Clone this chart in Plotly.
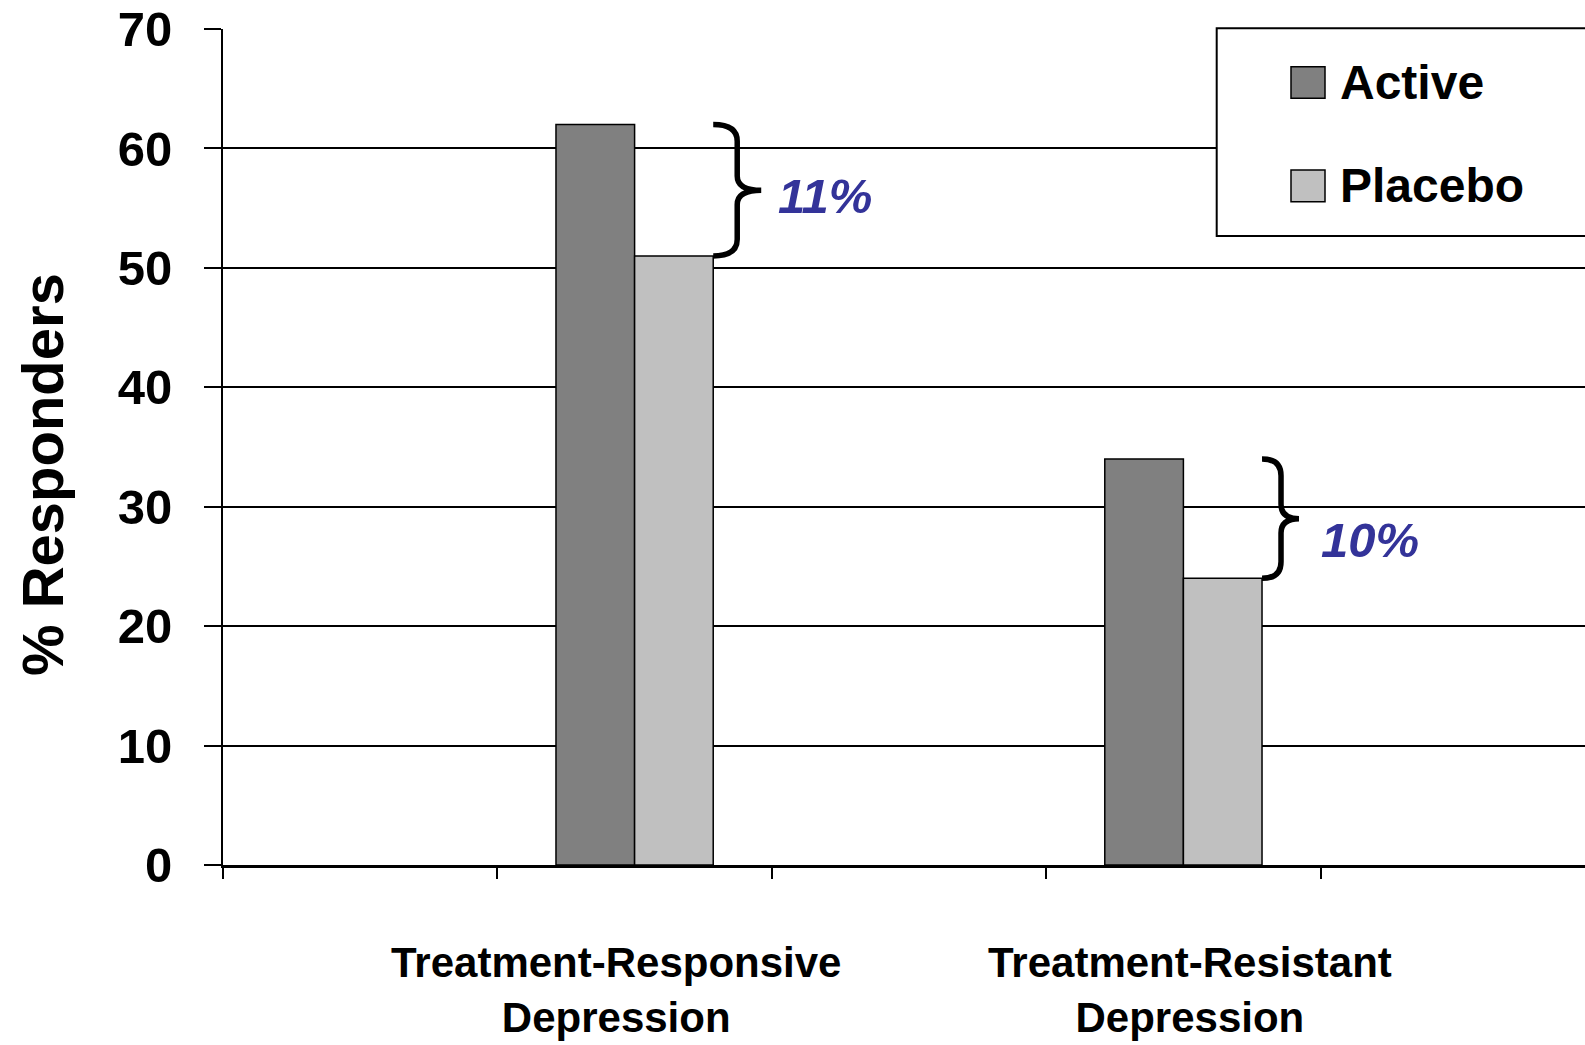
import plotly.graph_objects as go

# ---- data -------------------------------------------------------------
groups = ["Treatment-Responsive<br>Depression", "Treatment-Resistant<br>Depression"]
group_pos = [1, 3]                      # slots on a 5-slot category axis
active = [62, 34]
placebo = [51, 24]
diff_labels = ["11%", "10%"]
series_names = ["Active", "Placebo"]
y_ticks = [0, 10, 20, 30, 40, 50, 60, 70]

# ---- styling ----------------------------------------------------------
W, H = 1585, 1045
ML, MR, MT, MB = 223, 0, 29, 180
FONT = "Liberation Sans, Arial, Helvetica, sans-serif"
C_ACTIVE = "#808080"
C_PLACEBO = "#C0C0C0"
C_NOTE = "#333399"
BAR_W = 0.2865
SLOT_PX = 274.4
plot_w = W - ML - MR
x_range = [-0.5, -0.5 + plot_w / SLOT_PX]

# pixel -> paper helpers for the hand-placed legend box and title
def px_x(p):
    return (p - ML) / plot_w

def px_y(p):
    return (H - MB - p) / (H - MB - MT)

fig = go.Figure()
fig.add_trace(go.Bar(
    x=group_pos, y=active, name=series_names[0], width=BAR_W, offset=-BAR_W,
    marker=dict(color=C_ACTIVE, line=dict(color="black", width=1.5)),
    showlegend=False,
))
fig.add_trace(go.Bar(
    x=group_pos, y=placebo, name=series_names[1], width=BAR_W, offset=0,
    marker=dict(color=C_PLACEBO, line=dict(color="black", width=1.5)),
    showlegend=False,
))

# curly braces showing the active-minus-placebo gap
brace_spine = [24, 19]
brace_tip = [48, 37]
text_shift_x = [63, 57]
text_shift_y = [-6, -21]
for i, xp in enumerate(group_pos):
    top, bot = active[i], placebo[i]
    mid = (top + bot) / 2
    s, t = brace_spine[i], brace_tip[i]
    r1, r2 = 1.4, 1.2
    path = (
        f"M 0,{top} Q {s},{top} {s},{top - r1} "
        f"L {s},{mid + r2} Q {s},{mid} {t},{mid} "
        f"Q {s},{mid} {s},{mid - r2} "
        f"L {s},{bot + r1} Q {s},{bot} 0,{bot}"
    )
    fig.add_shape(
        type="path", path=path, xref="x", yref="y",
        xsizemode="pixel", xanchor=xp + BAR_W,
        line=dict(color="black", width=5.5),
    )
    fig.add_annotation(
        x=xp + BAR_W, y=mid, xref="x", yref="y",
        text=f"<b><i>{diff_labels[i]}</i></b>", showarrow=False,
        xanchor="left", yanchor="middle",
        xshift=text_shift_x[i], yshift=text_shift_y[i],
        font=dict(family=FONT, size=49, color=C_NOTE),
    )

# category labels beneath the axis
label_shift = [-19, 7]
for i, xp in enumerate(group_pos):
    fig.add_annotation(
        x=xp, y=0, xref="x", yref="paper",
        text=f"<b>{groups[i]}</b>", showarrow=False,
        xanchor="center", yanchor="top", xshift=label_shift[i], yshift=-72,
        font=dict(family=FONT, size=42, color="black"),
    )

# y-axis title
fig.add_annotation(
    x=px_x(42), y=px_y(475), xref="paper", yref="paper",
    text="<b>% Responders</b>", showarrow=False, textangle=-90,
    xanchor="center", yanchor="middle",
    font=dict(family=FONT, size=58, color="black"),
)

# legend box
fig.add_shape(
    type="rect", xref="paper", yref="paper",
    x0=px_x(1216.7), x1=px_x(W + 20), y0=px_y(236), y1=px_y(28.3),
    fillcolor="white", line=dict(color="black", width=2), layer="above",
)
legend_colors = [C_ACTIVE, C_PLACEBO]
legend_rows = [(66.7, 98.3), (170, 201.7)]
for name, col, (ya, yb) in zip(series_names, legend_colors, legend_rows):
    fig.add_shape(
        type="rect", xref="paper", yref="paper",
        x0=px_x(1291), x1=px_x(1325), y0=px_y(yb), y1=px_y(ya),
        fillcolor=col, line=dict(color="black", width=1.5), layer="above",
    )
    fig.add_annotation(
        x=px_x(1338), y=px_y((ya + yb) / 2), xref="paper", yref="paper",
        text=f"<b>{name}</b>", showarrow=False,
        xanchor="left", yanchor="middle",
        font=dict(family=FONT, size=48, color="black"),
    )

fig.update_layout(
    width=W, height=H,
    margin=dict(l=ML, r=MR, t=MT, b=MB, pad=0),
    paper_bgcolor="white", plot_bgcolor="white",
    barmode="overlay",
    font=dict(family=FONT, color="black"),
    xaxis=dict(
        range=x_range, tickmode="array",
        tickvals=[-0.5, 0.5, 1.5, 2.5, 3.5], ticktext=[""] * 5,
        ticks="outside", ticklen=11, tickwidth=2, tickcolor="black",
        showline=True, linecolor="black", linewidth=3,
        showgrid=False, zeroline=False,
    ),
    yaxis=dict(
        range=[0, 70], tickmode="array", tickvals=y_ticks,
        ticktext=[f"<b>{v}</b>" for v in y_ticks],
        tickfont=dict(family=FONT, size=49, color="black"),
        ticks="outside", ticklen=17, tickwidth=2, tickcolor="black",
        ticklabelstandoff=22,
        showline=True, linecolor="black", linewidth=2,
        showgrid=True, gridcolor="black", gridwidth=2,
        zeroline=False,
    ),
)

fig.write_html("out.html")
